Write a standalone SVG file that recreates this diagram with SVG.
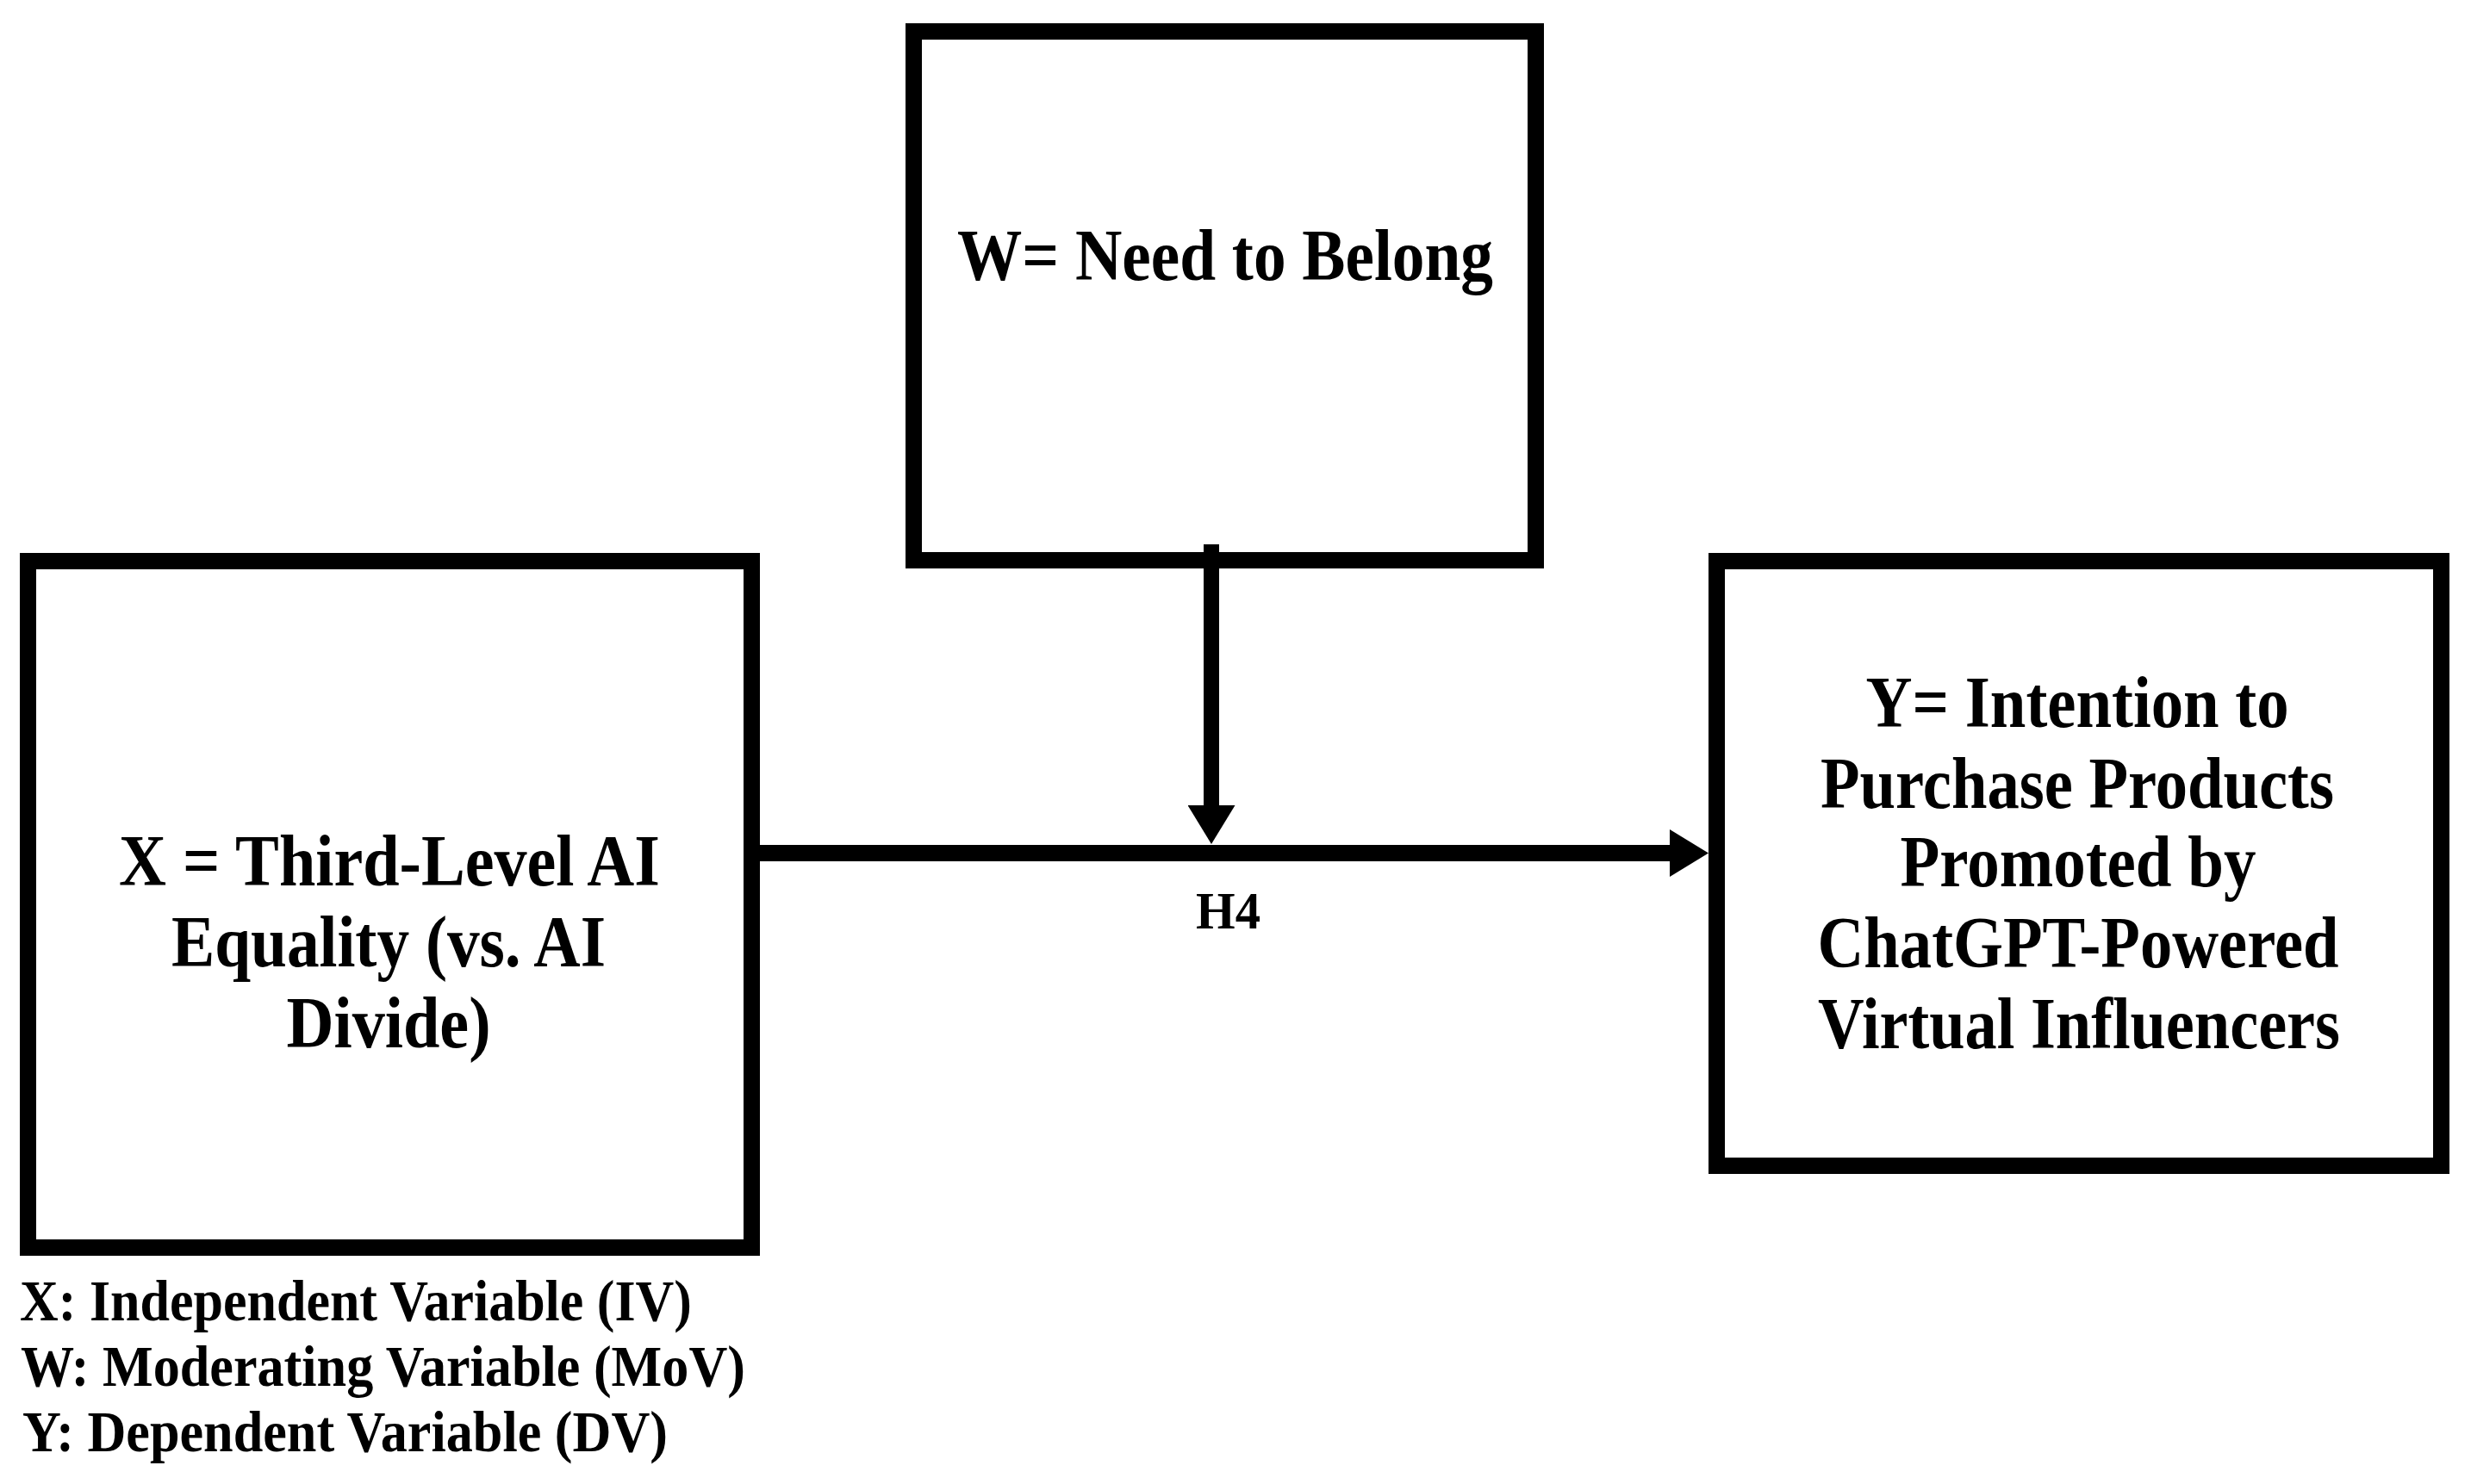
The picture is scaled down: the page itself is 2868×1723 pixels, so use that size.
<svg xmlns="http://www.w3.org/2000/svg" width="2868" height="1723" viewBox="0 0 2868 1723">
  <style>
    .box { fill: #ffffff; stroke: #000000; stroke-width: 19; }
    .t { font-family: "Liberation Serif", "Times New Roman", serif; font-weight: bold; fill: #000000; }
    .bt { font-size: 84px; text-anchor: middle; }
    .lg { font-size: 68px; }
    .conn { stroke: #000000; fill: none; }
  </style>
  <defs>
    <marker id="ah" viewBox="0 0 45 55" refX="5" refY="27.5" markerWidth="45" markerHeight="55" markerUnits="userSpaceOnUse" orient="auto">
      <path d="M0,0 L45,27.5 L0,55 Z" fill="#000000"/>
    </marker>
  </defs>
  <rect x="0" y="0" width="2868" height="1723" fill="#ffffff"/>

  <g id="node-w">
    <rect class="box" x="1060.5" y="36.5" width="722" height="614"/>
    <text class="t bt" x="1422" y="325" textLength="622" lengthAdjust="spacingAndGlyphs">W= Need to Belong</text>
  </g>

  <g id="node-x">
    <rect class="box" x="32.5" y="651.5" width="840" height="797"/>
    <text class="t bt" x="452" y="1028" textLength="628" lengthAdjust="spacingAndGlyphs">X = Third-Level AI</text>
    <text class="t bt" x="451" y="1122" textLength="504" lengthAdjust="spacingAndGlyphs">Equality (vs. AI</text>
    <text class="t bt" x="451" y="1216" textLength="237" lengthAdjust="spacingAndGlyphs">Divide)</text>
  </g>

  <g id="node-y">
    <rect class="box" x="1992.5" y="651.5" width="841" height="702"/>
    <text class="t bt" x="2411" y="844" textLength="491" lengthAdjust="spacingAndGlyphs">Y= Intention to</text>
    <text class="t bt" x="2411" y="938" textLength="596" lengthAdjust="spacingAndGlyphs">Purchase Products</text>
    <text class="t bt" x="2412" y="1029" textLength="413" lengthAdjust="spacingAndGlyphs">Promoted by</text>
    <text class="t bt" x="2412" y="1123" textLength="605" lengthAdjust="spacingAndGlyphs">ChatGPT-Powered</text>
    <text class="t bt" x="2413" y="1217" textLength="606" lengthAdjust="spacingAndGlyphs">Virtual Influencers</text>
  </g>

  <g id="connectors">
    <line class="conn" x1="882" y1="990.5" x2="1943" y2="990.5" stroke-width="19" marker-end="url(#ah)"/>
    <line class="conn" x1="1406" y1="632" x2="1406" y2="940" stroke-width="18" marker-end="url(#ah)"/>
    <text class="t" x="1388" y="1078" font-size="62" textLength="75" lengthAdjust="spacingAndGlyphs">H4</text>
  </g>

  <g id="legend">
    <text class="t lg" x="23" y="1533" textLength="780" lengthAdjust="spacingAndGlyphs">X: Independent Variable (IV)</text>
    <text class="t lg" x="24" y="1609" textLength="841" lengthAdjust="spacingAndGlyphs">W: Moderating Variable (MoV)</text>
    <text class="t lg" x="26" y="1685" textLength="749" lengthAdjust="spacingAndGlyphs">Y: Dependent Variable (DV)</text>
  </g>
</svg>
